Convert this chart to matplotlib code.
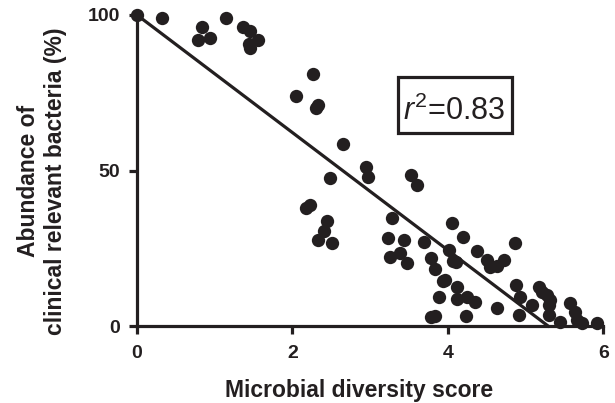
import matplotlib
matplotlib.use('Agg')
import matplotlib.pyplot as plt
from matplotlib.patches import Rectangle
import numpy as np

plt.rcParams['font.family'] = ['Liberation Sans', 'DejaVu Sans']
plt.rcParams['mathtext.fontset'] = 'custom'
plt.rcParams['mathtext.it'] = 'Liberation Sans:italic'
plt.rcParams['mathtext.rm'] = 'Liberation Sans'

# valores
diversidade = [0.0, 0.32, 0.84, 0.79, 0.94, 1.14, 1.37, 1.46, 1.56, 1.44, 1.45,
               2.26, 2.04, 2.31, 2.33, 2.65, 2.48, 2.95, 2.97, 3.52, 3.60,
               2.17, 2.22, 2.44, 2.41, 2.33, 2.51,
               3.28, 3.23, 3.43, 3.25, 3.39, 3.48, 3.70, 3.78, 3.84, 3.94, 3.89, 3.78, 3.84,
               4.06, 4.02, 4.07, 4.19, 4.10, 4.38, 4.50, 4.54, 4.63, 4.72, 4.86,
               3.96, 4.12, 4.12, 4.25, 4.35, 4.23, 4.63, 4.88, 4.93, 4.91,
               5.08, 5.17, 5.21, 5.28, 5.32, 5.30, 5.30, 5.44, 5.57, 5.64, 5.66, 5.73, 5.92]
abundancia = [100.0, 99.0, 96.0, 92.0, 92.6, 99.0, 96.0, 95.0, 92.0, 90.7, 89.4,
              81.0, 74.0, 70.0, 71.0, 58.5, 47.6, 51.0, 48.0, 48.6, 45.3,
              38.0, 39.0, 33.8, 30.5, 27.7, 26.7,
              34.7, 28.3, 27.7, 22.2, 23.5, 20.3, 27.0, 21.9, 18.3, 14.5, 9.3, 3.0, 3.3,
              33.0, 24.4, 21.0, 28.6, 20.6, 24.0, 21.2, 19.0, 19.3, 21.2, 26.7,
              14.8, 12.5, 8.7, 9.3, 7.7, 3.2, 5.8, 13.2, 9.3, 3.5,
              6.8, 12.5, 10.9, 10.0, 8.4, 6.8, 3.5, 1.3, 7.4, 4.5, 1.9, 1.0, 1.0]

# reta de regressão
intercepto = 100.0
inclinacao = -18.9
x_fim = 5.29
r2 = 0.83

cor = '#231f20'

fig = plt.figure(figsize=(6.15, 4.03), dpi=100)
ax = fig.add_axes([0.2228, 0.191, 0.758, 0.7718])

ax.scatter(diversidade, abundancia, s=92, color=cor, zorder=3, clip_on=False, linewidths=0)

xr = np.array([0, x_fim])
ax.plot(xr, intercepto + inclinacao * xr, color=cor, lw=2.3, zorder=2, clip_on=False)

ax.set_xlim(0, 6)
ax.set_ylim(0, 100)
ax.set_xticks([0, 2, 4, 6])
ax.set_yticks([0, 50, 100])

for lado in ['top', 'right']:
    ax.spines[lado].set_visible(False)
for lado in ['left', 'bottom']:
    ax.spines[lado].set_linewidth(2.3)
    ax.spines[lado].set_color(cor)

ax.tick_params(axis='both', length=6, width=2.3, color=cor, labelsize=14, labelcolor=cor)
ax.tick_params(axis='x', pad=8)
ax.tick_params(axis='y', pad=6)
plt.setp(ax.get_xticklabels() + ax.get_yticklabels(), fontweight='bold')

ax.set_xlabel('Microbial diversity score', fontsize=16.5, fontweight='bold', color=cor)
ax.xaxis.set_label_coords(0.476, -0.17)
ax.set_ylabel('Abundance of\nclinical relevant bacteria (%)', fontsize=16.5, fontweight='bold',
              color=cor, linespacing=1.2)
ax.yaxis.set_label_coords(-0.15, 0.465)

# caixa do r²
ax.add_patch(Rectangle((3.36, 62.1), 1.47, 18.0, facecolor='white', edgecolor=cor,
                       linewidth=2.3, zorder=4))
ax.text(4.08, 66.2, f'$\\mathit{{r}}^2$={r2}', fontsize=22, color=cor,
        ha='center', va='baseline', zorder=5)

plt.savefig('out.png', dpi=100)
